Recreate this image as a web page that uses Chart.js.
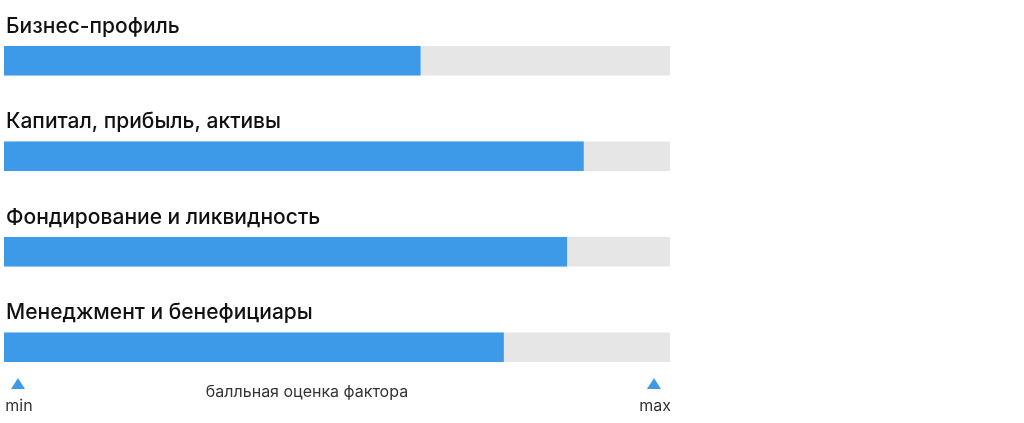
<!DOCTYPE html>
<html>
<head>
<meta charset="utf-8">
<script src="https://cdn.jsdelivr.net/npm/chart.js@4"></script>
<style>
  body { margin: 0; background: #fff; }
  #wrap { width: 1024px; height: 423px; }
</style>
</head>
<body>
<div id="wrap"><canvas id="chart"></canvas></div>
<script>
const categories = ["Бизнес-профиль", "Капитал, прибыль, активы", "Фондирование и ликвидность", "Менеджмент и бенефициары"];
const scores = [62.5, 87, 84.5, 75];
const maxScore = [100, 100, 100, 100];
const axisCaption = "балльная оценка фактора";
const minLabel = "min";
const maxLabel = "max";

// labels above bars + min/max markers
const decorations = {
  id: "decorations",
  afterDraw(chart) {
    const ctx = chart.ctx;
    const y = chart.scales.y;
    const x = chart.scales.x;
    ctx.save();
    ctx.fillStyle = "#111";
    ctx.font = "500 21px Inter, 'Noto Sans', sans-serif";
    ctx.textAlign = "left";
    ctx.textBaseline = "alphabetic";
    categories.forEach((c, i) => {
      ctx.fillText(c, x.left + 2, y.getPixelForValue(i) - 28);
    });
    const tri = (cx) => {
      ctx.beginPath();
      ctx.moveTo(cx, 378);
      ctx.lineTo(cx - 7, 389);
      ctx.lineTo(cx + 7, 389);
      ctx.closePath();
      ctx.fill();
    };
    ctx.fillStyle = "#3d9ae8";
    tri(18);
    tri(654);
    ctx.fillStyle = "#333";
    ctx.font = "16px Inter, 'Noto Sans', sans-serif";
    ctx.textAlign = "center";
    ctx.fillText(minLabel, 19, 411);
    ctx.fillText(maxLabel, 655, 411);
    ctx.fillText(axisCaption, 307, 397);
    ctx.restore();
  }
};

new Chart(document.getElementById("chart"), {
  type: "bar",
  data: {
    labels: categories,
    datasets: [
      { data: scores, backgroundColor: "#3d9ae8", grouped: false, order: 0, barThickness: 29 },
      { data: maxScore, backgroundColor: "#e6e6e6", grouped: false, order: 1, barThickness: 29 },
    ],
  },
  options: {
    indexAxis: "y",
    responsive: true,
    maintainAspectRatio: false,
    animation: false,
    layout: { padding: { left: 4, right: 354, top: 13, bottom: 28 } },
    scales: {
      x: { display: false, min: 0, max: 100 },
      y: { display: false },
    },
    plugins: {
      legend: { display: false },
      tooltip: { enabled: false },
    },
  },
  plugins: [decorations],
});
</script>
</body>
</html>
